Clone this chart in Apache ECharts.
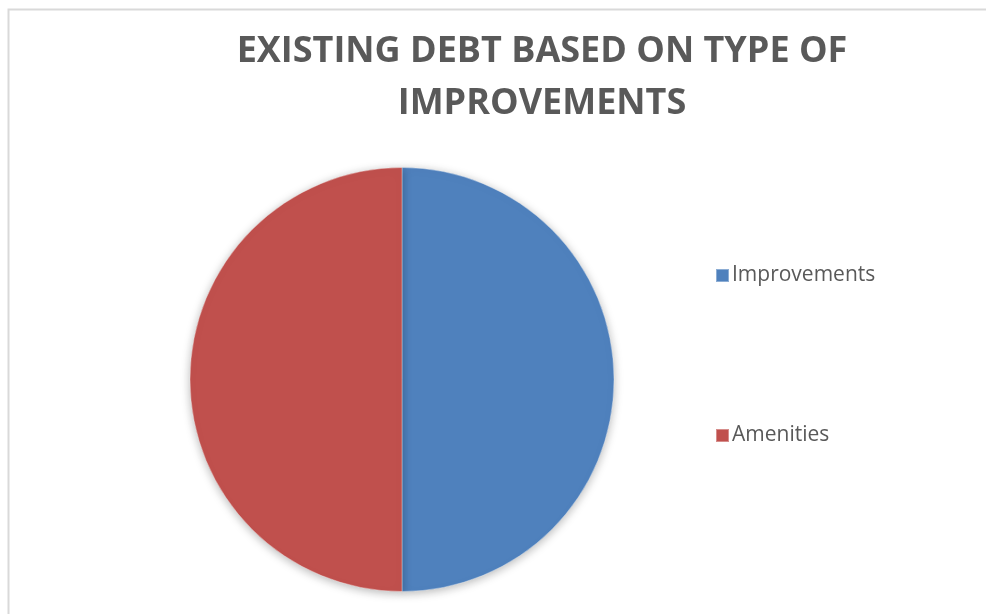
<!DOCTYPE html>
<html>
<head>
<meta charset="utf-8">
<script src="https://cdn.jsdelivr.net/npm/echarts@6/dist/echarts.min.js"></script>
<style>
  html, body { margin: 0; padding: 0; background: #ffffff; }
  #chart { width: 986px; height: 614px; }
</style>
</head>
<body>
<div id="chart"></div>
<script>
// Share of existing debt by type of improvement
const categories = ['Improvements', 'Amenities'];
const debtShare = [50, 50];
const sliceColors = ['#4f81bd', '#c0504d'];
const titleLines = ['EXISTING DEBT BASED ON TYPE OF', 'IMPROVEMENTS'];

const chart = echarts.init(document.getElementById('chart'), null, { renderer: 'canvas' });

const option = {
  backgroundColor: '#ffffff',
  animation: false,
  title: {
    text: titleLines.join('\n'),
    left: 537,
    top: 21,
    textAlign: 'center',
    textStyle: {
      fontFamily: 'Open Sans',
      fontWeight: 'bold',
      fontSize: 36,
      lineHeight: 52,
      color: '#595959'
    }
  },
  legend: {
    orient: 'vertical',
    left: 710,
    top: 260,
    itemWidth: 13,
    itemHeight: 13,
    itemGap: 139,
    icon: 'rect',
    textStyle: {
      fontFamily: 'Open Sans',
      fontSize: 21,
      color: '#595959',
      padding: [0, 0, 0, -2]
    },
    data: categories
  },
  graphic: [{
    type: 'rect',
    silent: true,
    shape: { x: 8.5, y: 9.5, width: 1100, height: 800 },
    style: { fill: null, stroke: '#d9d9d9', lineWidth: 2 }
  }],
  series: [{
    type: 'pie',
    center: [402, 379.5],
    radius: 212,
    startAngle: 90,
    clockwise: true,
    label: { show: false },
    labelLine: { show: false },
    emphasis: { disabled: true },
    itemStyle: {
      borderColor: 'rgba(255,255,255,0.35)',
      borderWidth: 1,
      shadowBlur: 10,
      shadowColor: 'rgba(0,0,0,0.28)',
      shadowOffsetY: 2
    },
    data: categories.map((name, i) => ({
      name: name,
      value: debtShare[i],
      itemStyle: { color: sliceColors[i] }
    }))
  }]
};

chart.setOption(option);
</script>
</body>
</html>
